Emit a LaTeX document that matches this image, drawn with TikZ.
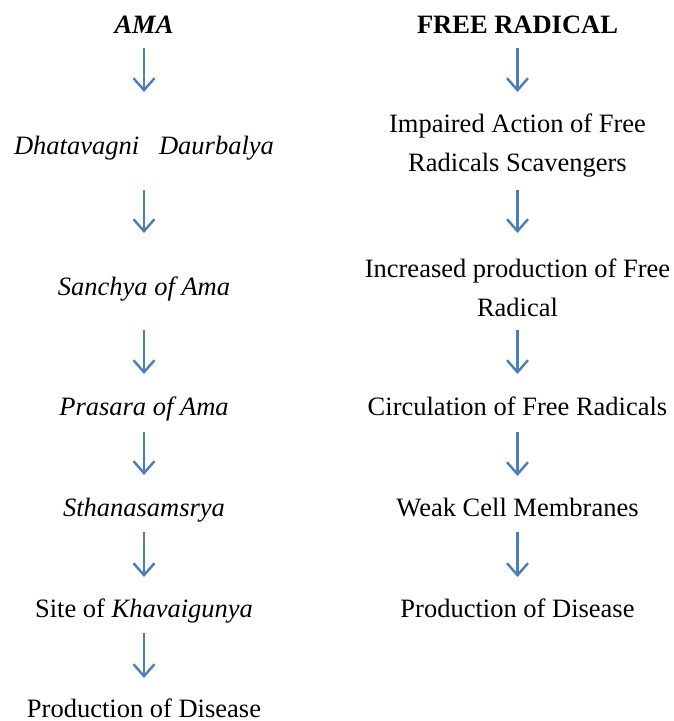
\documentclass[tikz,border=0pt]{standalone}
\usepackage{fontspec}
\setmainfont{Liberation Serif}
\usetikzlibrary{arrows.meta}
\definecolor{flowblue}{RGB}{74,126,187}

\tikzset{
  step text/.style={inner sep=0pt, text height=18pt, text depth=6pt,
    font=\fontsize{26.5}{39}\selectfont},
  two lines/.style={inner sep=0pt, align=center,
    font=\fontsize{26.5}{39}\selectfont},
  flow/.style={draw=flowblue, line width=2.4pt,
    -{Straight Barb[length=12pt,width=21pt]}}
}

\begin{document}
\begin{tikzpicture}[x=1pt,y=-1pt]
      \useasboundingbox (0,0) rectangle (674,721);
      % left column
      \node[step text] (ama) at (144,27.5) {\textbf{\textit{AMA}}};
      \node[step text] (dhatu) at (144,148.5) {\textit{Dhatavagni\ \ \ Daurbalya}};
      \node[step text] (sanchya) at (144,289.5) {\textit{Sanchya of Ama}};
      \node[step text] (prasara) at (144,409.5) {\textit{Prasara of Ama}};
      \node[step text] (sthana) at (144,510.5) {\textit{Sthanasamsrya}};
      \node[step text] (khava) at (144,611.5) {Site of \textit{Khavaigunya}};
      \node[step text, text depth=2pt] (diseaseL) at (144,709) {Production of Disease};
      % right column
      \node[step text] (fr) at (517.5,27.5) {\textbf{FREE RADICAL}};
      \node[two lines] (impaired) at (517.5,146) {Impaired Action of Free\\Radicals Scavengers};
      \node[two lines] (increased) at (517.5,288) {Increased production of Free\\Radical};
      \node[step text] (circ) at (517.5,409.5) {Circulation of Free Radicals};
      \node[step text] (weak) at (517.5,510.5) {Weak Cell Membranes};
      \node[step text] (diseaseR) at (517.5,611.5) {Production of Disease};
      % arrows
      \draw[flow, shorten <=20.5pt, shorten >=56.5pt] (ama.center) -- (dhatu.center);
      \draw[flow, shorten <=41.5pt, shorten >=56.5pt] (dhatu.center) -- (sanchya.center);
      \draw[flow, shorten <=40.5pt, shorten >=35.5pt] (sanchya.center) -- (prasara.center);
      \draw[flow, shorten <=22.5pt, shorten >=35.5pt] (prasara.center) -- (sthana.center);
      \draw[flow, shorten <=21.5pt, shorten >=34.5pt] (sthana.center) -- (khava.center);
      \draw[flow, shorten <=21.5pt, shorten >=31pt] (khava.center) -- (diseaseL.center);
      \draw[flow, shorten <=20.5pt, shorten >=54pt] (fr.center) -- (impaired.center);
      \draw[flow, shorten <=44pt, shorten >=55pt] (impaired.center) -- (increased.center);
      \draw[flow, shorten <=42pt, shorten >=35.5pt] (increased.center) -- (circ.center);
      \draw[flow, shorten <=22.5pt, shorten >=34.5pt] (circ.center) -- (weak.center);
      \draw[flow, shorten <=21.5pt, shorten >=34.5pt] (weak.center) -- (diseaseR.center);
\end{tikzpicture}
\end{document}
